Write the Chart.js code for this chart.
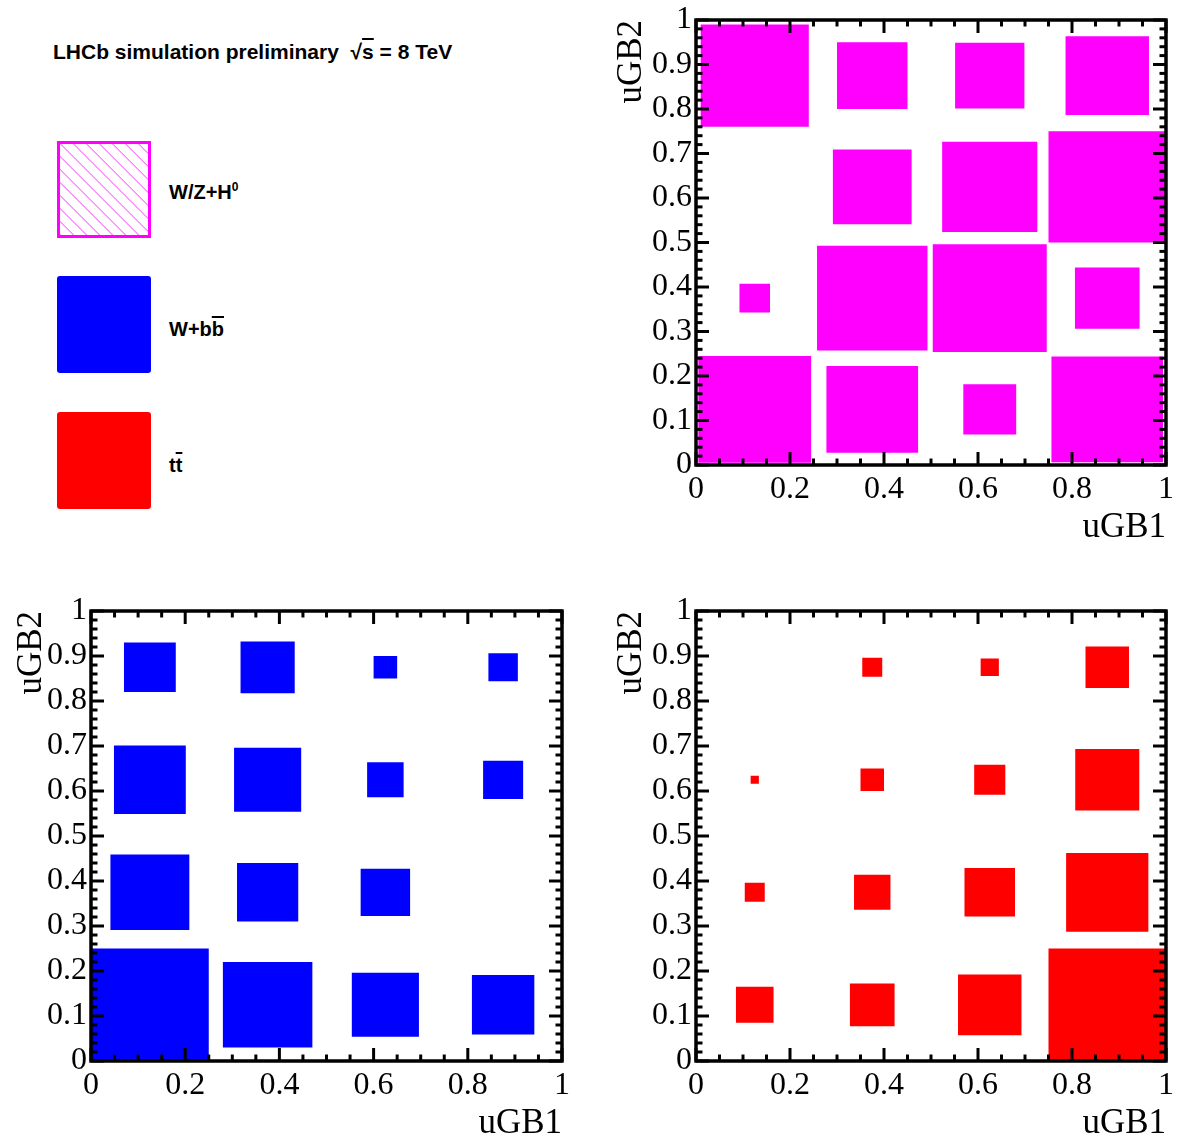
<!DOCTYPE html>
<html>
<head>
<meta charset="utf-8">
<script src="https://cdn.jsdelivr.net/npm/chart.js@4.4.1/dist/chart.umd.min.js"></script>
<style>
body { margin: 0; background: #fff; width: 1186px; height: 1142px; position: relative; overflow: hidden; }
canvas, svg { position: absolute; }
.txt { position: absolute; font-family: 'Liberation Sans', Arial, sans-serif; font-weight: bold; font-size: 20px; line-height: 20px; color: #000; white-space: nowrap; }
.txt sup { font-size: 12px; vertical-align: 8px; line-height: 0; }
.over { text-decoration: overline; text-decoration-thickness: 2px; }
.box { position: absolute; left: 57px; width: 94px; height: 97px; border-radius: 3px; }
</style>
</head>
<body>
<div class="txt" style="left:53px; top:41px; font-size:21px; line-height:21px;">LHCb simulation preliminary&nbsp;&nbsp;&radic;<span class="over">s</span> = 8 TeV</div>

<svg width="96" height="99" style="left:56px; top:140px;">
    <defs>
        <pattern id="hatch" width="9.2" height="9.2" patternUnits="userSpaceOnUse" patternTransform="rotate(-45)">
            <line x1="0" y1="0" x2="0" y2="9.2" stroke="#ff00ff" stroke-width="1.2"/>
        </pattern>
    </defs>
    <rect x="2.5" y="2.5" width="91" height="94" fill="url(#hatch)" stroke="#ff00ff" stroke-width="3"/>
</svg>
<div class="txt" style="left:169px; top:182px;">W/Z+H<sup>0</sup></div>

<div class="box" style="top:276px; background:#0000ff;"></div>
<div class="txt" style="left:169px; top:319px;">W+b<span class="over">b</span></div>

<div class="box" style="top:412px; background:#ff0000;"></div>
<div class="txt" style="left:169px; top:455px;">t<span class="over">t</span></div>

<canvas id="whChart" width="586" height="560" style="left:600px; top:0px; width:586px; height:560px;"></canvas>
<canvas id="wbbChart" width="600" height="582" style="left:0px; top:560px; width:600px; height:582px;"></canvas>
<canvas id="ttChart" width="586" height="582" style="left:600px; top:560px; width:586px; height:582px;"></canvas>

<script>
// bin edges shared by uGB1 and uGB2
const binEdges = [0, 0.25, 0.5, 0.75, 1];
const xTickLabels = ['0', '0.2', '0.4', '0.6', '0.8', '1'];
const yTickLabels = ['0', '0.1', '0.2', '0.3', '0.4', '0.5', '0.6', '0.7', '0.8', '0.9', '1'];

// box side as a fraction of the bin width, rows go from the lowest uGB2 bin to the highest
const whSizes = [
    [0.96, 0.78, 0.45, 0.95],
    [0.26, 0.94, 0.97, 0.55],
    [0.00, 0.67, 0.81, 1.00],
    [0.92, 0.60, 0.59, 0.71]
];
const wbbSizes = [
    [1.00, 0.76, 0.57, 0.53],
    [0.67, 0.52, 0.42, 0.00],
    [0.61, 0.57, 0.31, 0.34],
    [0.44, 0.46, 0.20, 0.25]
];
const ttSizes = [
    [0.32, 0.38, 0.54, 1.00],
    [0.17, 0.31, 0.43, 0.70],
    [0.07, 0.20, 0.265, 0.545],
    [0.00, 0.17, 0.155, 0.37]
];

function boxDatasets(sizes, color) {
    const sets = [];
    sizes.forEach((row, j) => {
        row.forEach((s, i) => {
            if (!s) return;
            const cx = (binEdges[i] + binEdges[i + 1]) / 2;
            const cy = (binEdges[j] + binEdges[j + 1]) / 2;
            const hw = s * (binEdges[i + 1] - binEdges[i]) / 2;
            const hh = s * (binEdges[j + 1] - binEdges[j]) / 2;
            sets.push({
                data: [
                    {x: cx - hw, y: cy - hh},
                    {x: cx + hw, y: cy - hh},
                    {x: cx + hw, y: cy + hh},
                    {x: cx - hw, y: cy + hh},
                    {x: cx - hw, y: cy - hh}
                ],
                backgroundColor: color,
                borderColor: 'rgba(0,0,0,0)',
                borderWidth: 0,
                pointRadius: 0,
                fill: 'shape',
                tension: 0
            });
        });
    });
    return sets;
}

// ROOT style frame: ticks on all four sides, pointing inward
const rootFrame = {
    id: 'rootFrame',
    afterDatasetsDraw(chart) {
        const {ctx, chartArea: a, scales: {x, y}} = chart;
        const seg = (x1, y1, x2, y2) => {
            ctx.beginPath();
            ctx.moveTo(x1, y1);
            ctx.lineTo(x2, y2);
            ctx.stroke();
        };
        ctx.save();
        ctx.strokeStyle = '#000';
        ctx.lineWidth = 3;
        for (let k = 0; k <= 20; k++) {
            const px = x.getPixelForValue(k * 0.05);
            const len = k % 4 === 0 ? 13 : 6.5;
            seg(px, a.bottom, px, a.bottom - len);
            seg(px, a.top, px, a.top + len);
        }
        for (let k = 0; k <= 50; k++) {
            const py = y.getPixelForValue(k * 0.02);
            const len = k % 5 === 0 ? 13 : 6.5;
            seg(a.left, py, a.left + len, py);
            seg(a.right, py, a.right - len, py);
        }
        ctx.lineWidth = 3.5;
        ctx.strokeRect(a.left, a.top, a.right - a.left, a.bottom - a.top);
        ctx.restore();
    }
};

function makeChart(id, sizes, color, pad, yWidth) {
    const ctx = document.getElementById(id).getContext('2d');
    const tickFont = {family: "'Liberation Serif', 'Times New Roman', serif", size: 32, lineHeight: 1};
    const titleFont = {family: "'Liberation Serif', 'Times New Roman', serif", size: 35, lineHeight: 1};

    new Chart(ctx, {
        type: 'line',
        data: {datasets: boxDatasets(sizes, color)},
        options: {
            responsive: false,
            animation: false,
            events: [],
            layout: {padding: pad},
            plugins: {legend: {display: false}, tooltip: {enabled: false}},
            scales: {
                x: {
                    type: 'linear',
                    min: 0,
                    max: 1,
                    grid: {display: false, drawTicks: false},
                    border: {display: false},
                    ticks: {
                        stepSize: 0.2,
                        padding: 9,
                        color: '#000',
                        font: tickFont,
                        maxRotation: 0,
                        callback: (v, i) => xTickLabels[i]
                    },
                    title: {display: true, text: 'uGB1', align: 'end', color: '#000', font: titleFont, padding: 0},
                    afterFit: (scale) => { scale.height = 80; }
                },
                y: {
                    type: 'linear',
                    min: 0,
                    max: 1,
                    grid: {display: false, drawTicks: false},
                    border: {display: false},
                    ticks: {
                        stepSize: 0.1,
                        padding: 4,
                        color: '#000',
                        font: tickFont,
                        callback: (v, i) => yTickLabels[i]
                    },
                    title: {display: true, text: 'uGB2', align: 'end', color: '#000', font: titleFont, padding: 0},
                    afterFit: (scale) => { scale.width = yWidth; }
                }
            }
        },
        plugins: [rootFrame]
    });
}

makeChart('whChart', whSizes, '#ff00ff', {left: 14, top: 17, right: 20, bottom: 15}, 82);
makeChart('wbbChart', wbbSizes, '#0000ff', {left: 14, top: 51, right: 38, bottom: 1}, 77);
makeChart('ttChart', ttSizes, '#ff0000', {left: 14, top: 51, right: 20, bottom: 1}, 82);
</script>
</body>
</html>
